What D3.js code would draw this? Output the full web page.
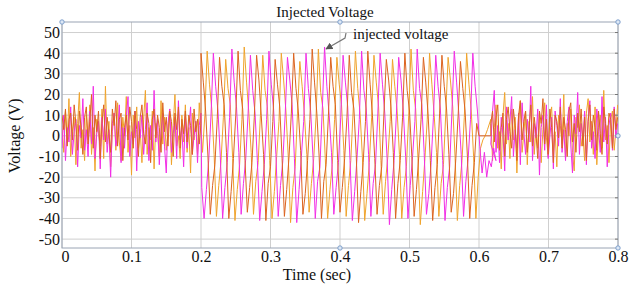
<!DOCTYPE html>
<html lang="en">
<head>
<meta charset="UTF-8">
<title>Injected Voltage</title>
<script src="https://d3js.org/d3.v7.min.js"></script>
<style>
  body { margin: 0; background: #fff; }
  text { font-family: "Liberation Serif", "Times New Roman", serif; fill: #111; }
  .grid line { stroke: #cfcfcf; stroke-width: 1; }
  .series { fill: none; stroke-width: 1; stroke-linejoin: round; }
</style>
</head>
<body>
<svg width="629" height="288"></svg>
<script>
const width = 629, height = 288;

// axis ticks
const xTicks = [0, 0.1, 0.2, 0.3, 0.4, 0.5, 0.6, 0.7, 0.8];
const yTicks = [50, 40, 30, 20, 10, 0, -10, -20, -30, -40, -50];

// before injection, 0 .. 0.2 s, every 2.5 ms
const orangeA = [5, -8, 12, -3, 18, -10, 2, 9, -14, 6, 21, -6, 3, -12, 10, -2, 15, -9, 4, -17, 8, 1, -5, 13, -11, 24, -4, 7, -15, 2, 11, -7, 16, -3, -12, 9, 0, 19, -8, 5, -19, 10, -1, 14, -6, 3, -13, 8, 22, -9, 4, -2, 12, -16, 6, 1, -10, 17, -4, 9, -7, 2, 13, -14, 5, 20, -5, 0, -11, 10, -3, 15, -8, 4, -18, 11, -2, 7, -9, 16, 3];
const magentaA = [-6, 10, -12, 4, -3, 14, -9, 2, 8, -15, 5, -1, 18, -7, 3, -10, 12, -4, 24, -11, 1, 7, -16, 9, -2, 13, -8, 3, -20, 6, 11, -5, 0, 15, -13, 4, -6, 9, 19, -10, 2, -4, 12, -17, 7, -1, 10, -9, 3, 16, -12, 5, -7, 22, -3, 8, -14, 2, 11, -5, -18, 6, 13, -8, 1, 9, -11, 17, -2, 4, -15, 10, -6, 3, 14, -9, 0, 7, -13, 5, 11];
const brownA = [10, 3, 13, -5, 8, 11, -2, 15, 6, -7, 12, 4, -9, 9, 14, -4, 7, 20, -6, 10, 2, 12, -11, 6, 15, -3, 9, 1, -8, 13, 5, 17, -5, 8, 11, -12, 4, 10, -2, 14, 7, -6, 12, 3, -10, 9, 15, 1, -4, 11, 6, -13, 8, 13, -1, 10, 4, -8, 16, 2, 9, -5, 12, 7, -10, 11, 3, 14, -6, 8, 1, 12, -3, 10, 5, -9, 13, 2, 8, -4, 6];

// injection, 0.2 .. 0.6 s, every 1/300 s
const brownInj = [
  40, 26, 12, -10, -38, -24, -14, 8,
  38, 24, 15, -8, -40, -27, -11, 10,
  41, 22, 13, -12, -37, -25, -13, 9,
  39, 27, 10, -9, -41, -23, -15, 7,
  37, 25, 14, -11, -39, -26, -10, 11,
  40, 23, 12, -7, -38, -28, -12, 8,
  42, 26, 11, -10, -40, -22, -14, 10,
  38, 24, 15, -12, -37, -25, -11, 9,
  39, 21, 13, -9, -42, -27, -13, 7,
  41, 25, 10, -11, -38, -24, -15, 12,
  37, 27, 14, -8, -40, -23, -12, 9,
  40, 22, 12, -10, -39, -26, -10, 8,
  38, 26, 11, -12, -41, -25, -14, 11,
  39, 24, 13, -9, -37, -28, -11, 10,
  36, 23, 12, -10, -40, -24, -13, 6, 0];
const orangeInj = [-8, 10,
  41, 25, 13, -9, -39, -24, -12, 9,
  37, 23, 15, -11, -41, -26, -14, 8,
  43, 26, 11, -8, -38, -22, -13, 10,
  39, 22, 14, -12, -40, -27, -10, 7,
  40, 27, 12, -10, -42, -25, -15, 11,
  36, 24, 10, -9, -37, -23, -11, 9,
  42, 21, 13, -11, -40, -26, -14, 8,
  38, 25, 15, -7, -39, -24, -12, 12,
  41, 23, 11, -10, -41, -28, -13, 9,
  39, 26, 14, -12, -38, -22, -10, 7,
  37, 24, 12, -9, -40, -25, -15, 10,
  42, 22, 13, -11, -43, -27, -11, 8,
  40, 25, 10, -8, -39, -23, -14, 11,
  38, 27, 14, -10, -41, -24, -12, 9,
  40, 25, 12, -10, -40, -20, -6, -2, 0, 3];
const magentaInj = [-25, -40, -26, -12, 10,
  40, 24, 12, -10, -40, -25, -13, 9,
  42, 26, 14, -8, -38, -23, -11, 11,
  39, 22, 11, -12, -41, -27, -14, 8,
  41, 25, 13, -9, -39, -24, -12, 10,
  38, 27, 15, -11, -42, -26, -10, 7,
  40, 23, 12, -10, -40, -22, -15, 12,
  43, 24, 10, -8, -38, -25, -13, 9,
  39, 26, 14, -12, -41, -27, -11, 8,
  41, 22, 13, -9, -39, -23, -14, 11,
  40, 25, 11, -11, -43, -26, -12, 10,
  38, 27, 12, -10, -40, -24, -10, 7,
  42, 23, 15, -8, -38, -28, -13, 9,
  39, 24, 13, -12, -41, -25, -15, 12,
  41, 26, 10, -9, -39, -22, -11, 8,
  40, 24, 12, -5, -18, -8, -20, -12, -15, -6, -12];
const brownGap = [0, 0];

// after injection, 0.617 .. 0.8 s, every 2.5 ms
const orangeB = [8, -12, 4, 15, -6, 2, -16, 10, 21, -4, 6, -11, 13, -2, 9, -18, 5, 17, -8, 1, 12, -14, 7, -3, 19, -9, 4, -6, 11, -13, 3, 16, -1, -10, 8, 14, -7, 2, -15, 10, 5, -4, 20, -11, 6, 0, 13, -8, -17, 9, 4, 15, -5, 1, -12, 11, 18, -3, 7, -9, 14, -14, 2, 10, -6, 22, -2, 5, -13, 8, 12, -7, 3, 15];
const magentaB = [-4, 12, 22, -8, 5, -13, 9, 1, -17, 14, -2, 7, 19, -10, 3, -6, 11, -14, 16, 2, -9, 8, -3, 24, -12, 6, -1, 13, -19, 4, 10, -7, 15, -11, 0, 9, -16, 12, 5, -5, 18, -8, 3, -12, 7, 14, -4, -18, 10, 1, 21, -9, 6, -2, 12, -14, 8, 17, -6, 2, -11, 13, 4, -8, 19, -3, 9, -15, 5, 11, -7, 14, -1, 6];
const brownB = [6, 12, -3, 9, 15, -7, 4, 11, -10, 8, 14, 2, -6, 13, 5, -12, 10, 17, -2, 7, 12, -8, 3, 15, -5, 9, 1, -11, 12, 6, 18, -4, 8, -9, 13, 4, -13, 10, 7, -1, 14, -6, 9, 3, -10, 12, 16, -3, 6, -8, 11, 2, 13, -5, 9, -12, 7, 15, -2, 10, 4, -7, 12, 1, -9, 14, 6, -4, 11, 8, -6, 13, 3, 9];

// segment start times (s) and sample steps (s)
const series = [
  { color: "#f0a42c", segs: [[0, 0.0025, orangeA], [0.2022, 1 / 300, orangeInj], [0.617, 0.0025, orangeB]] },
  { color: "#f22ee6", segs: [[0, 0.0025, magentaA], [0.2011, 1 / 300, magentaInj], [0.617, 0.0025, magentaB]] },
  { color: "#dc6420", segs: [[0, 0.0025, brownA], [0.2, 1 / 300, brownInj], [0.6, 0.017, brownGap], [0.617, 0.0025, brownB]] }
];

const margin = { left: 62, right: 11, top: 22, bottom: 40 };
const x = d3.scaleLinear().domain([0, 0.8]).range([margin.left, width - margin.right]);
const y = d3.scaleLinear().domain([-54.3, 55.1]).range([height - margin.bottom, margin.top]);

const svg = d3.select("svg");

// grid
const grid = svg.append("g").attr("class", "grid");
grid.selectAll(".gx").data(xTicks).enter().append("line")
    .attr("x1", d => x(d)).attr("x2", d => x(d))
    .attr("y1", y.range()[1]).attr("y2", y.range()[0]);
grid.selectAll(".gy").data(yTicks).enter().append("line")
    .attr("x1", x.range()[0]).attr("x2", x.range()[1])
    .attr("y1", d => y(d)).attr("y2", d => y(d));

// plot frame
svg.append("rect")
    .attr("x", x.range()[0]).attr("y", y.range()[1])
    .attr("width", x.range()[1] - x.range()[0])
    .attr("height", y.range()[0] - y.range()[1])
    .attr("fill", "none").attr("stroke", "#9aa4b4");

// series
const line = d3.line().x(d => x(d[0])).y(d => y(d[1]));
svg.append("clipPath").attr("id", "clip").append("rect")
    .attr("x", x.range()[0]).attr("y", y.range()[1])
    .attr("width", x.range()[1] - x.range()[0])
    .attr("height", y.range()[0] - y.range()[1]);

series.forEach(s => {
  const pts = [];
  s.segs.forEach(([t0, dt, vals]) => vals.forEach((v, i) => pts.push([t0 + i * dt, v])));
  svg.append("path").attr("class", "series")
      .attr("clip-path", "url(#clip)")
      .attr("stroke", s.color)
      .attr("d", line(pts));
});

// axes
const xAxis = svg.append("g")
    .attr("transform", `translate(0,${y.range()[0]})`)
    .call(d3.axisBottom(x).tickValues(xTicks).tickSize(0).tickPadding(3).tickFormat(d => d === 0 ? "0" : d.toFixed(1)));
xAxis.select(".domain").remove();
xAxis.selectAll("text").attr("font-size", 16).attr("font-family", "Liberation Serif").attr("fill", "#111");
xAxis.selectAll(".tick").filter(d => d === 0).select("text").attr("dx", 3);

const yAxis = svg.append("g")
    .attr("transform", `translate(${x.range()[0]},0)`)
    .call(d3.axisLeft(y).tickValues(yTicks).tickSize(0).tickPadding(2).tickFormat(d => String(d)));
yAxis.select(".domain").remove();
yAxis.selectAll("text").attr("font-size", 16).attr("font-family", "Liberation Serif").attr("fill", "#111");

// small ticks on the right edge
svg.append("g").selectAll("line").data(yTicks).enter().append("line")
    .attr("x1", x.range()[1] - 3).attr("x2", x.range()[1])
    .attr("y1", d => y(d)).attr("y2", d => y(d))
    .attr("stroke", "#777");

// selection handles
const handles = [[0, 55.1], [0.4, 55.1], [0.8, 55.1], [0.8, 0], [0.8, -54.3], [0.4, -54.3]];
svg.append("g").selectAll("circle").data(handles).enter().append("circle")
    .attr("cx", d => x(d[0])).attr("cy", d => y(d[1])).attr("r", 2.2)
    .attr("fill", "#dde8f6").attr("stroke", "#7fa0cc").attr("stroke-width", 1);

// titles
svg.append("text").attr("x", 325).attr("y", 17).attr("text-anchor", "middle")
    .attr("font-size", 15).text("Injected Voltage");
svg.append("text").attr("x", 317).attr("y", 280).attr("text-anchor", "middle")
    .attr("font-size", 16).text("Time (sec)");
svg.append("text").attr("transform", `translate(20,${y(0)}) rotate(-90)`)
    .attr("text-anchor", "middle").attr("font-size", 16).text("Voltage (V)");

// annotation
svg.append("defs").append("marker").attr("id", "arr")
    .attr("viewBox", "0 0 10 10").attr("refX", 9).attr("refY", 5)
    .attr("markerWidth", 6).attr("markerHeight", 6).attr("orient", "auto")
    .append("path").attr("d", "M0,0L10,5L0,10z").attr("fill", "#555");
svg.append("path").attr("d", "M346,33 L345,38 L326,49")
    .attr("fill", "none").attr("stroke", "#777").attr("stroke-width", 1.2)
    .attr("marker-end", "url(#arr)");
svg.append("text").attr("x", 353).attr("y", 39).attr("font-size", 15).text("injected voltage");
</script>
</body>
</html>
